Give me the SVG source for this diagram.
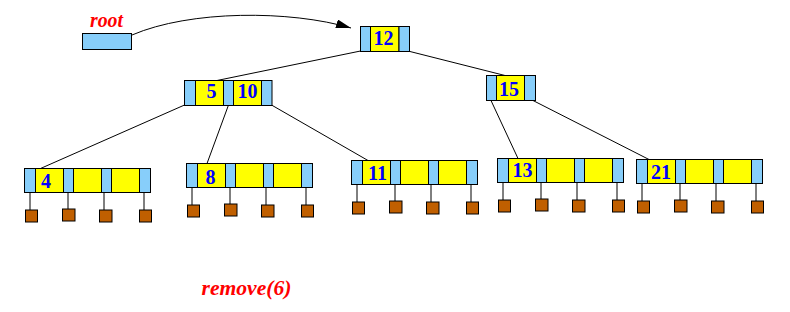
<svg xmlns="http://www.w3.org/2000/svg" xmlns:xlink="http://www.w3.org/1999/xlink" width="790" height="312" viewBox="0 0 790 312">
<style>
.b{fill:#87CEFA;stroke:#000;stroke-width:1}
.y{fill:#FFFF00;stroke:#000;stroke-width:1}
.sq{fill:#C05F00;stroke:#000;stroke-width:1}
.ln{stroke:#000;stroke-width:1;fill:none}
.num{font-family:"Liberation Serif",serif;font-weight:bold;font-size:20px;fill:#0000FF;text-anchor:middle}
.lbl{font-family:"Liberation Serif",serif;font-weight:bold;font-style:italic;font-size:20px;fill:#FF0000}
</style>
<defs>
<marker id="ah" markerUnits="userSpaceOnUse" viewBox="0 0 15 9" refX="15" refY="4.5" markerWidth="15" markerHeight="9" orient="auto">
<path d="M0,0 L15,4.5 L0,9 z" fill="#000"/>
</marker>
<g id="leafShape">
<line class="ln" x1="5.5" y1="24" x2="5.5" y2="41.5"/>
<line class="ln" x1="43.5" y1="24" x2="43.5" y2="40.5"/>
<line class="ln" x1="79.5" y1="24" x2="79.5" y2="41.5"/>
<line class="ln" x1="119.5" y1="24" x2="119.5" y2="41.5"/>
<rect class="b" x="0" y="0" width="11" height="24"/>
<rect class="y" x="11" y="0" width="28" height="24"/>
<rect class="b" x="39" y="0" width="10" height="24"/>
<rect class="y" x="49" y="0" width="28" height="24"/>
<rect class="b" x="77" y="0" width="10" height="24"/>
<rect class="y" x="87" y="0" width="28" height="24"/>
<rect class="b" x="115" y="0" width="11" height="24"/>
<rect class="sq" x="1" y="41.5" width="12" height="12"/>
<rect class="sq" x="38" y="40.5" width="12.5" height="12"/>
<rect class="sq" x="75" y="41.5" width="12.5" height="12"/>
<rect class="sq" x="115" y="41.5" width="12" height="12"/>
</g>
</defs>
<rect width="790" height="312" fill="#fff"/>
<g id="connectors">
<path class="ln" d="M132,35 C190,10 290,10 351,28" marker-end="url(#ah)"/>
<line class="ln" x1="360.5" y1="51" x2="217" y2="80.5"/>
<line class="ln" x1="408" y1="51" x2="505" y2="75.5"/>
<line class="ln" x1="184.5" y1="105" x2="40.5" y2="168.5"/>
<line class="ln" x1="228.5" y1="105" x2="207" y2="163.5"/>
<line class="ln" x1="271.5" y1="105" x2="368" y2="160.5"/>
<line class="ln" x1="491" y1="100.5" x2="518" y2="158.5"/>
<line class="ln" x1="533" y1="100.5" x2="649" y2="159.5"/>
</g>
<g id="root">
<text class="lbl" x="90" y="27" textLength="33" lengthAdjust="spacingAndGlyphs">root</text>
<rect class="b" x="82.5" y="33.5" width="49" height="16"/>
</g>
<g id="n12">
<rect class="b" x="360.5" y="26.5" width="10" height="25"/>
<rect class="y" x="370.5" y="26.5" width="28.5" height="25"/>
<rect class="b" x="399" y="26.5" width="10.5" height="25"/>
<text class="num" x="383.5" y="45">12</text>
</g>
<g id="n5_10">
<rect class="b" x="184.5" y="80.5" width="11" height="25"/>
<rect class="y" x="195.5" y="80.5" width="28" height="25"/>
<rect class="b" x="223.5" y="80.5" width="10" height="25"/>
<rect class="y" x="233.5" y="80.5" width="28" height="25"/>
<rect class="b" x="261.5" y="80.5" width="10.5" height="25"/>
<text class="num" x="211.5" y="98">5</text>
<text class="num" x="247.5" y="98">10</text>
</g>
<g id="n15">
<rect class="b" x="486.5" y="75.5" width="10" height="25"/>
<rect class="y" x="496.5" y="75.5" width="28" height="25"/>
<rect class="b" x="524.5" y="75.5" width="11" height="25"/>
<text class="num" x="509" y="96">15</text>
</g>
<g id="leaf4">
<use xlink:href="#leafShape" href="#leafShape" transform="translate(24.5,168.5)"/>
<text class="num" x="46" y="188">4</text>
</g>
<g id="leaf8">
<use xlink:href="#leafShape" href="#leafShape" transform="translate(186.5,163.5)"/>
<text class="num" x="210.5" y="183.5">8</text>
</g>
<g id="leaf11">
<use xlink:href="#leafShape" href="#leafShape" transform="translate(351.5,160.5)"/>
<text class="num" x="377.5" y="179.5">11</text>
</g>
<g id="leaf13">
<use xlink:href="#leafShape" href="#leafShape" transform="translate(497.5,158.5)"/>
<text class="num" x="522.5" y="177">13</text>
</g>
<g id="leaf21">
<use xlink:href="#leafShape" href="#leafShape" transform="translate(636.5,159.5)"/>
<text class="num" x="661" y="179">21</text>
</g>
<g id="caption">
<text class="lbl" x="201.5" y="295" textLength="90" lengthAdjust="spacingAndGlyphs">remove(6)</text>
</g>
</svg>
